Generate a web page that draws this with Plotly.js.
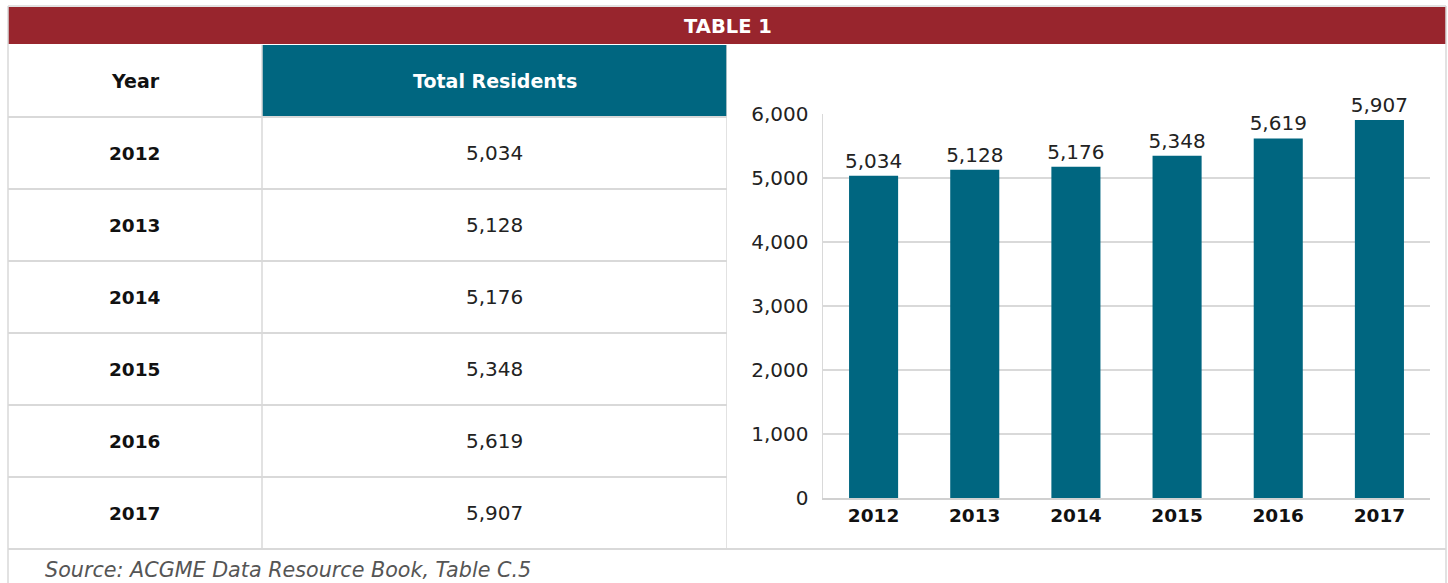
<!DOCTYPE html>
<html>
<head>
<meta charset="utf-8">
<script src="https://cdn.plot.ly/plotly-3.0.1.min.js"></script>
<style>html,body{margin:0;padding:0;background:#fff;}#chart{width:1448px;height:583px;}</style>
</head>
<body>
<div id="chart"></div>
<script>
// ---- data ----
const years = ['2012', '2013', '2014', '2015', '2016', '2017'];
const residents = [5034, 5128, 5176, 5348, 5619, 5907];
const headerLabels = ['Year', 'Total Residents'];
const tableTitle = 'TABLE 1';
const sourceText = 'Source: ACGME Data Resource Book, Table C.5';
const yTicks = [0, 1000, 2000, 3000, 4000, 5000, 6000];

// ---- layout helpers ----
const W = 1448, H = 583;
const px = x => x / W;
const py = y => 1 - y / H;
const FONT = 'DejaVu Sans, Open Sans, sans-serif';
const RED = '#98252d', TEAL = '#006680', LINE = '#d9d9d9';
const colSplit = (262 - 8) / (727 - 8);
const fmt = v => v.toLocaleString('en-US');

const shapes = [];
const annotations = [];

// header red bar
shapes.push({type: 'rect', xref: 'paper', yref: 'paper', x0: px(8), x1: px(1446), y0: py(44), y1: py(7),
  fillcolor: RED, line: {width: 0}, layer: 'below'});
shapes.push({type: 'line', xref: 'paper', yref: 'paper', x0: px(8), x1: px(1446), y0: py(6), y1: py(6), line: {color: LINE, width: 1.5}});
annotations.push({xref: 'paper', yref: 'paper', x: px(728), y: py(26), text: tableTitle, showarrow: false,
  font: {family: FONT, size: 19.5, color: '#fff', weight: 'bold'}, xanchor: 'center', yanchor: 'middle'});

// outer borders
shapes.push({type: 'line', xref: 'paper', yref: 'paper', x0: px(8), x1: px(8), y0: py(6), y1: 0, line: {color: LINE, width: 1.5}});
shapes.push({type: 'line', xref: 'paper', yref: 'paper', x0: px(1446), x1: px(1446), y0: py(6), y1: 0, line: {color: LINE, width: 1.5}});
shapes.push({type: 'line', xref: 'paper', yref: 'paper', x0: px(8), x1: px(1446), y0: py(549), y1: py(549), line: {color: LINE, width: 2}});

// source
annotations.push({xref: 'paper', yref: 'paper', x: px(43), y: py(570), text: sourceText, showarrow: false,
  font: {family: FONT, size: 20.7, color: '#555', style: 'italic'}, xanchor: 'left', yanchor: 'middle'});

// ---- table on x2/y2 (rows are data units) ----
const nRows = years.length + 1;
shapes.push({type: 'rect', xref: 'x2', yref: 'y2', x0: colSplit, x1: 1, y0: 0, y1: 1, fillcolor: TEAL, line: {width: 0}, layer: 'below'});
for (let r = 1; r < nRows; r++) {
  shapes.push({type: 'line', xref: 'x2', yref: 'y2', x0: 0, x1: 1, y0: r, y1: r, line: {color: LINE, width: 2}});
}
shapes.push({type: 'line', xref: 'x2', yref: 'y2', x0: colSplit, x1: colSplit, y0: 0, y1: nRows, line: {color: LINE, width: 1.5}});
shapes.push({type: 'line', xref: 'x2', yref: 'y2', x0: 1, x1: 1, y0: 0, y1: nRows, line: {color: LINE, width: 1.5}});

const c0 = colSplit / 2, c1 = (colSplit + 1) / 2;
annotations.push({xref: 'x2', yref: 'y2', x: c0, y: 0.5, text: headerLabels[0], showarrow: false,
  font: {family: FONT, size: 19, color: '#111', weight: 'bold'}});
annotations.push({xref: 'x2', yref: 'y2', x: c1, y: 0.5, text: headerLabels[1], showarrow: false,
  font: {family: FONT, size: 19, color: '#fff', weight: 'bold'}});
years.forEach((yr, i) => {
  annotations.push({xref: 'x2', yref: 'y2', x: c0, y: i + 1.5, text: yr, showarrow: false,
    font: {family: FONT, size: 18.5, color: '#111', weight: 'bold'}});
  annotations.push({xref: 'x2', yref: 'y2', x: c1, y: i + 1.5, text: fmt(residents[i]), showarrow: false,
    font: {family: FONT, size: 20, color: '#222'}});
});

const traces = [{
  type: 'bar', x: years, y: residents, xaxis: 'x', yaxis: 'y',
  marker: {color: TEAL},
  text: residents.map(fmt), textposition: 'outside', cliponaxis: false, constraintext: 'none',
  textfont: {family: FONT, size: 20, color: '#222'},
  hoverinfo: 'skip'
}];

const layout = {
  width: W, height: H,
  margin: {l: 0, r: 0, t: 0, b: 0},
  paper_bgcolor: '#fff', plot_bgcolor: '#fff',
  showlegend: false,
  bargap: 0.515,
  separators: '.,',
  font: {family: FONT},
  xaxis: {domain: [px(823), px(1430)], anchor: 'y', type: 'category',
    showline: true, linecolor: '#d0d0d0', linewidth: 2, ticks: '', showgrid: false,
    tickfont: {family: FONT, size: 18.5, color: '#111', weight: 'bold'}, fixedrange: true},
  yaxis: {domain: [py(498), py(114)], anchor: 'x', range: [0, 6000], tickvals: yTicks, tickformat: ',',
    showline: true, linecolor: LINE, linewidth: 1.5, gridcolor: LINE, gridwidth: 1.5, zeroline: false,
    ticks: '', ticklabelstandoff: 9,
    tickfont: {family: FONT, size: 20, color: '#222'}, fixedrange: true},
  xaxis2: {domain: [px(8), px(727)], anchor: 'y2', range: [0, 1], visible: false, fixedrange: true},
  yaxis2: {domain: [py(549), py(45)], anchor: 'x2', range: [nRows, 0], visible: false, fixedrange: true},
  shapes: shapes,
  annotations: annotations
};

Plotly.newPlot('chart', traces, layout, {displayModeBar: false, staticPlot: true});
</script>
</body>
</html>
